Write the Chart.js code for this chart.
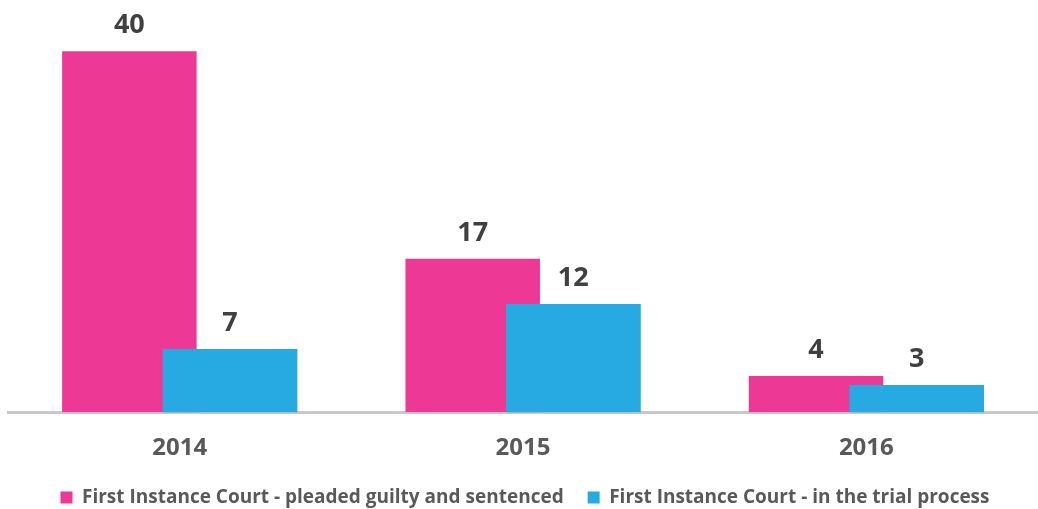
<!DOCTYPE html>
<html>
<head>
<meta charset="utf-8">
<script src="https://cdn.jsdelivr.net/npm/chart.js@4.4.0/dist/chart.umd.min.js"></script>
<style>
  html, body { margin: 0; padding: 0; background: #fff; }
  #wrap { width: 1038px; height: 509px; }
</style>
</head>
<body>
<div id="wrap"><canvas id="barChart"></canvas></div>
<script>
const years = ['2014', '2015', '2016'];
const guiltyValues = [40, 17, 4];
const trialValues = [7, 12, 3];
const seriesNames = ['First Instance Court - pleaded guilty and sentenced', 'First Instance Court - in the trial process'];

// blue bars overlap the pink ones, so draw blue again on top, then the numbers
const topLabels = {
    id: 'topLabels',
    afterDatasetsDraw(chart) {
        const ctx = chart.ctx;
        chart.getDatasetMeta(1).controller.draw();
        ctx.save();
        ctx.font = 'bold 27px "Open Sans"';
        ctx.fillStyle = '#404040';
        ctx.textAlign = 'center';
        ctx.textBaseline = 'alphabetic';
        chart.data.datasets.forEach((ds, i) => {
            chart.getDatasetMeta(i).data.forEach((bar, j) => {
                ctx.fillText(ds.data[j], bar.x, bar.y - 18);
            });
        });
        ctx.restore();
    }
};

const ctx = document.getElementById('barChart').getContext('2d');
const myChart = new Chart(ctx, {
    type: 'bar',
    data: {
        labels: years,
        datasets: [{
            label: seriesNames[0],
            data: guiltyValues,
            backgroundColor: '#EE3895'
        }, {
            label: seriesNames[1],
            data: trialValues,
            backgroundColor: '#27AAE1'
        }]
    },
    options: {
        responsive: true,
        maintainAspectRatio: false,
        animation: false,
        categoryPercentage: 0.586,
        barPercentage: 1.337,
        layout: { padding: { left: 8, right: -4, top: 6, bottom: -8 } },
        scales: {
            x: {
                grid: { display: false },
                border: { display: true, color: '#c8c8cc', width: 3 },
                ticks: {
                    color: '#595959',
                    font: { family: '"Open Sans"', size: 24, weight: 'bold' },
                    padding: 14
                },
                afterFit(scale) { scale.height -= 13; }
            },
            y: {
                display: false,
                min: 0,
                max: 45
            }
        },
        plugins: {
            legend: {
                position: 'bottom',
                labels: {
                    boxWidth: 12,
                    boxHeight: 12,
                    padding: 24,
                    color: '#595959',
                    font: { family: '"Open Sans"', size: 19, weight: 'bold' }
                }
            },
            tooltip: { enabled: false }
        }
    },
    plugins: [topLabels]
});
</script>
</body>
</html>
